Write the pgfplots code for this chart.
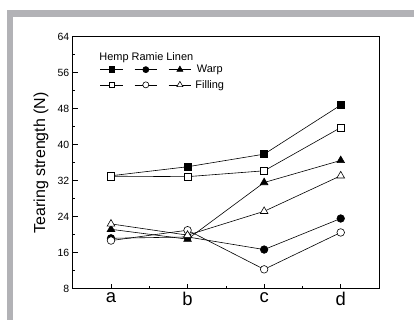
\documentclass[border=0pt]{standalone}
\usepackage{pgfplots}
\pgfplotsset{compat=1.18}
\usepackage{fontspec}
\setmainfont{Liberation Sans}
\usetikzlibrary{plotmarks}
\definecolor{framegray}{RGB}{178,178,182}
\begin{document}
\begin{tikzpicture}
\useasboundingbox (0bp,0bp) rectangle (414bp,320bp);
\fill[framegray] (7bp,0bp) rectangle (12.7bp,310bp);
\fill[framegray] (7bp,303.3bp) rectangle (414bp,310bp);
\begin{axis}[
  at={(72.7bp,31.3bp)}, anchor=south west,
  scale only axis, width=306.3bp, height=252bp,
  xmin=-0.5, xmax=3.5, ymin=8, ymax=64,
  xtick={0,1,2,3}, xticklabels={a,b,c,d},
  minor xtick={0.5,1.5,2.5},
  ytick={8,16,24,32,40,48,56,64},
  minor ytick={12,20,28,36,44,52,60},
  tick align=inside, tick pos=left,
  major tick length=5bp, minor tick length=2.5bp,
  axis line style={line width=0.8bp},
  every tick/.style={black, line width=0.6bp},
  xticklabel style={font=\fontsize{18.5}{20}\selectfont},
  yticklabel style={font=\fontsize{10.5}{12}\selectfont},
  /pgf/number format/assume math mode=true,
  ylabel={Tearing strength (N)},
  ylabel style={font=\fontsize{16}{18}\selectfont, at={(axis description cs:-0.1035,0.5)}, anchor=center, rotate=0},
  every axis plot/.append style={black, line width=0.6bp},
  legend columns=3,
  legend style={draw=none, fill=none, at={(0.089,0.892)}, anchor=north west,
    font=\fontsize{11}{13}\selectfont, inner sep=0pt, row sep=4bp,
    nodes={inner sep=1bp},
    /tikz/every even column/.append style={column sep=9bp}},
  legend image code/.code={\draw[mark repeat=2,mark phase=2,#1,every mark/.append style={scale=0.8}] plot coordinates {(0bp,0bp)(11.25bp,0bp)(22.5bp,0bp)};},
]
\addplot[mark=square*, mark size=3.6bp, mark options={fill=black}] coordinates {(0,33.1)(1,35.1)(2,37.9)(3,48.8)};
\addlegendentry{}
\addplot[mark=*, mark size=3.8bp, mark options={fill=black}] coordinates {(0,19.2)(1,19.5)(2,16.7)(3,23.6)};
\addlegendentry{}
\addplot[mark=triangle*, mark size=4.4bp, mark options={fill=black}] coordinates {(0,21.2)(1,19.0)(2,31.6)(3,36.5)};
\addlegendentry{\hspace{3bp}Warp}
\addplot[mark=square*, mark size=3.6bp, mark options={fill=white}] coordinates {(0,33.0)(1,32.9)(2,34.2)(3,43.8)};
\addlegendentry{}
\addplot[mark=*, mark size=3.8bp, mark options={fill=white}] coordinates {(0,18.7)(1,21.0)(2,12.3)(3,20.5)};
\addlegendentry{}
\addplot[mark=triangle*, mark size=4.4bp, mark options={fill=white}] coordinates {(0,22.4)(1,19.9)(2,25.2)(3,33.1)};
\addlegendentry{\hspace{3bp}Filling}
\node[anchor=base west, font=\fontsize{11}{13}\selectfont, inner sep=0pt] at (axis description cs:0.0866,0.9075) {Hemp Ramie Linen};
\end{axis}
\end{tikzpicture}
\end{document}
